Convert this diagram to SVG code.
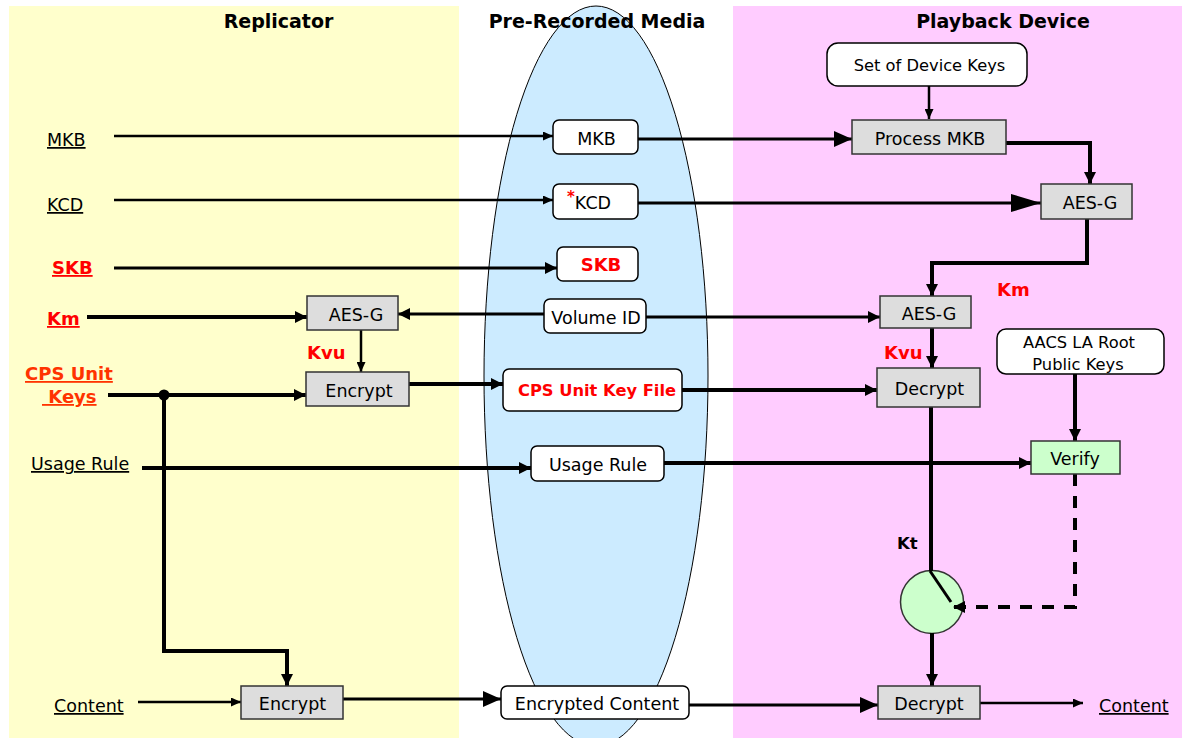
<svg xmlns="http://www.w3.org/2000/svg" width="1182" height="738" viewBox="0 0 1182 738">
<style>
text{font-family:"DejaVu Sans","Liberation Sans",sans-serif;font-size:17.5px;fill:#000}
.t{font-weight:bold;font-size:19px;text-anchor:middle}
.c{text-anchor:middle}
.u{text-decoration:underline}
.r{fill:#FF0000;font-weight:bold;font-size:18px}
.o{fill:#FF3300;font-weight:bold;font-size:18px}
.f16{font-size:16.3px}
.g{fill:#DDDDDD;stroke:#333;stroke-width:1.5}
.w{fill:#FFFFFF;stroke:#000;stroke-width:1.5}
.v{fill:#CCFFCC;stroke:#333;stroke-width:1.5}
#connectors path{fill:none;stroke:#000}
.s2{stroke-width:2.5}
.s3{stroke-width:3}
.s4{stroke-width:4}
</style>
<defs>
<marker id="as" markerUnits="userSpaceOnUse" markerWidth="10" markerHeight="9" refX="10" refY="4.5" orient="auto"><path d="M0,0 L10,4.5 L0,9 z" fill="#000"/></marker>
<marker id="am" markerUnits="userSpaceOnUse" markerWidth="12" markerHeight="12" refX="12" refY="6" orient="auto"><path d="M0,0 L12,6 L0,12 z" fill="#000"/></marker>
<marker id="al" markerUnits="userSpaceOnUse" markerWidth="18" markerHeight="16" refX="18" refY="8" orient="auto"><path d="M0,0 L18,8 L0,16 z" fill="#000"/></marker>
<marker id="ax" markerUnits="userSpaceOnUse" markerWidth="30" markerHeight="18" refX="30" refY="9" orient="auto"><path d="M0,0 L30,9 L0,18 z" fill="#000"/></marker>
</defs>

<g id="background">
<rect x="0" y="0" width="1182" height="738" fill="#FFFFFF"/>
<rect x="9" y="6" width="450" height="732" fill="#FFFFCC"/>
<rect x="733" y="6" width="449" height="732" fill="#FFCCFF"/>
<ellipse cx="596" cy="376" rx="112" ry="370" fill="#CCEBFF" stroke="#000" stroke-width="1"/>
<text class="t" x="278.5" y="28">Replicator</text>
<text class="t" x="597" y="28">Pre-Recorded Media</text>
<text class="t" x="1003" y="28">Playback Device</text>
</g>

<g id="play-switch"><circle class="v" cx="932" cy="602" r="31.5"/></g>

<g id="connectors">
<path class="s2" d="M114,136 H553" marker-end="url(#as)"/>
<path class="s2" d="M114,200 H553" marker-end="url(#as)"/>
<path class="s3" d="M114,268 H557" marker-end="url(#am)"/>
<path class="s4" d="M87,317 H307" marker-end="url(#am)"/>
<path class="s3" d="M544,314 H398" marker-end="url(#am)"/>
<path class="s4" d="M108,395 H306" marker-end="url(#am)"/>
<path class="s4" d="M164,395 V651 H287 V686" marker-end="url(#am)"/>
<path class="s2" d="M138,702 H241" marker-end="url(#as)"/>
<path class="s4" d="M142,468 H531" marker-end="url(#am)"/>
<path class="s2" d="M361,330 V372" marker-end="url(#as)"/>
<path class="s4" d="M409,384 H503" marker-end="url(#am)"/>
<path class="s3" d="M343,699 H501" marker-end="url(#al)"/>
<path class="s3" d="M638,139 H852" marker-end="url(#al)"/>
<path class="s2" d="M929,86 V119" marker-end="url(#as)"/>
<path class="s4" d="M1006,143 H1090 V184" marker-end="url(#am)"/>
<path class="s3" d="M638,203 H1041" marker-end="url(#ax)"/>
<path class="s4" d="M1087,219 V263 H932 V296" marker-end="url(#am)"/>
<path class="s3" d="M646,317 H880" marker-end="url(#am)"/>
<path class="s4" d="M932,328 V368" marker-end="url(#am)"/>
<path class="s4" d="M682,390 H877" marker-end="url(#am)"/>
<path class="s4" d="M1075,374 V441" marker-end="url(#am)"/>
<path class="s4" d="M664,463 H1031" marker-end="url(#am)"/>
<path class="s4" d="M931,407 V571"/>
<path class="s3" d="M930,571 L951,602"/>
<path class="s4" d="M1075,474 V607 H953" stroke-dasharray="12 10" marker-end="url(#am)"/>
<path class="s4" d="M932,633 V686" marker-end="url(#am)"/>
<path class="s3" d="M689,705 H878" marker-end="url(#al)"/>
<path class="s2" d="M980,703 H1083" marker-end="url(#as)"/>
<circle cx="164" cy="395" r="5.5" fill="#000"/>
</g>

<g id="label-mkb"><text class="u" x="47" y="146">MKB</text></g>
<g id="label-kcd"><text class="u" x="47" y="211">KCD</text></g>
<g id="label-skb"><text class="r u" x="52" y="274">SKB</text></g>
<g id="label-km"><text class="r u" x="47" y="325">Km</text></g>
<g id="label-cps"><text class="o u" x="25" y="380">CPS Unit</text><text class="o u" x="42" y="403" xml:space="preserve"> Keys</text></g>
<g id="label-usage"><text class="u" x="31" y="470">Usage Rule</text></g>
<g id="label-content-in"><text class="u" x="54" y="712">Content</text></g>
<g id="label-kvu-rep"><text class="r" x="307" y="359">Kvu</text></g>
<g id="label-kvu-play"><text class="r" x="884" y="359">Kvu</text></g>
<g id="label-km-play"><text class="r" x="997" y="296">Km</text></g>
<g id="label-kt"><text x="897" y="549" style="font-weight:bold;font-size:16.5px">Kt</text></g>
<g id="label-content-out"><text class="u" x="1099" y="712">Content</text></g>

<g id="rep-aesg"><rect class="g" x="307" y="296" width="91" height="34"/><text class="c" x="356" y="320.5">AES-G</text></g>
<g id="rep-encrypt1"><rect class="g" x="306" y="372" width="103" height="34"/><text class="c" x="359" y="396.5">Encrypt</text></g>
<g id="rep-encrypt2"><rect class="g" x="241" y="686" width="102" height="33"/><text class="c" x="292.5" y="710">Encrypt</text></g>

<g id="media-mkb"><rect class="w" x="553" y="120" width="85" height="34" rx="6"/><text class="c" x="596.5" y="144.5">MKB</text></g>
<g id="media-kcd"><rect class="w" x="553" y="184" width="85" height="35" rx="6"/><text x="567" y="209"><tspan style="fill:#FF0000;font-weight:bold;font-size:15px" dy="-7">*</tspan><tspan dy="7">KCD</tspan></text></g>
<g id="media-skb"><rect class="w" x="557" y="247" width="81" height="34" rx="6"/><text class="r c" x="601" y="271">SKB</text></g>
<g id="media-volid"><rect class="w" x="544" y="299" width="102" height="34" rx="6"/><text class="c" x="596" y="323.5">Volume ID</text></g>
<g id="media-cpsfile"><rect class="w" x="503" y="369" width="179" height="42" rx="6"/><text class="r c f16" x="597" y="396">CPS Unit Key File</text></g>
<g id="media-usage"><rect class="w" x="531" y="446" width="133" height="35" rx="6"/><text class="c" x="598" y="471">Usage Rule</text></g>
<g id="media-enccontent"><rect class="w" x="501" y="686" width="188" height="33" rx="6"/><text class="c" x="597" y="710">Encrypted Content</text></g>

<g id="play-devkeys"><rect class="w" x="827" y="43" width="200" height="43" rx="11"/><text class="c f16" x="929.5" y="70.5">Set of Device Keys</text></g>
<g id="play-procmkb"><rect class="g" x="852" y="120" width="154" height="34"/><text class="c" x="930" y="144.5">Process MKB</text></g>
<g id="play-aesg1"><rect class="g" x="1041" y="184" width="91" height="35"/><text class="c" x="1090" y="209">AES-G</text></g>
<g id="play-aesg2"><rect class="g" x="880" y="296" width="91" height="32"/><text class="c" x="929" y="319.5">AES-G</text></g>
<g id="play-decrypt1"><rect class="g" x="877" y="368" width="103" height="39"/><text class="c" x="929.5" y="395">Decrypt</text></g>
<g id="play-aacs"><rect class="w" x="997" y="329" width="167" height="45" rx="9"/><text class="c f16" x="1079" y="348">AACS LA Root</text><text class="c f16" x="1078" y="369.5">Public Keys</text></g>
<g id="play-verify"><rect class="v" x="1031" y="441" width="89" height="33"/><text class="c" x="1075" y="465">Verify</text></g>
<g id="play-decrypt2"><rect class="g" x="878" y="686" width="102" height="33"/><text class="c" x="929" y="710">Decrypt</text></g>
</svg>
